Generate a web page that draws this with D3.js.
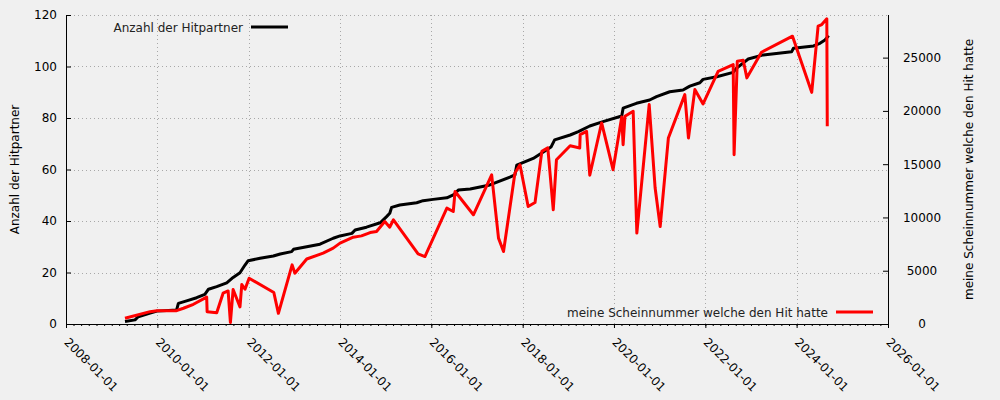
<!DOCTYPE html>
<html>
<head>
<meta charset="utf-8">
<script src="https://cdn.jsdelivr.net/npm/d3@7"></script>
<style>
  html, body { margin: 0; padding: 0; background: #f0f0f0; }
  svg { display: block; font-family: "DejaVu Sans", sans-serif; }
</style>
</head>
<body>
<svg id="chart" width="1000" height="400"></svg>
<script>
// Anzahl der Hitpartner (left axis), time in decimal years
const hitYears = [2009.29,2009.51,2009.58,2009.84,2009.99,2010.42,2010.46,2010.64,2010.86,2011.04,2011.12,2011.30,2011.52,2011.66,2011.81,2011.92,2011.99,2012.25,2012.54,2012.69,2012.94,2012.98,2013.27,2013.56,2013.85,2014.00,2014.26,2014.33,2014.58,2014.88,2015.02,2015.09,2015.13,2015.31,2015.68,2015.82,2016.04,2016.34,2016.48,2016.59,2016.85,2017.28,2017.72,2017.83,2017.87,2018.23,2018.52,2018.62,2018.70,2019.04,2019.22,2019.47,2019.76,2020.17,2020.20,2020.49,2020.78,2020.93,2021.22,2021.51,2021.66,2021.88,2021.95,2022.25,2022.61,2022.68,2022.87,2022.94,2023.27,2023.89,2023.93,2024.37,2024.51,2024.62,2024.70];
const hitValues = [1,1.6,2.8,4.2,5,5.4,8,9,10.2,11.5,13.5,14.5,16,18.1,19.9,22.9,24.6,25.5,26.4,27.2,28.1,29.0,30.0,31.0,33.3,34.2,35.2,36.5,37.6,39.3,41.7,43.0,45.3,46.2,47.1,47.9,48.4,49.0,50.1,52.0,52.4,54.0,57.0,57.9,61.7,64.3,67.6,68.7,71.5,73.4,74.7,76.9,78.6,80.8,83.8,85.7,87.0,88.3,90.2,90.9,92.4,93.7,95.0,96.0,97.7,99.3,101.9,102.9,104.5,105.7,107.1,108.0,109.0,110.3,112.0];

// meine Scheinnummer welche den Hit hatte (right axis)
const scheinYears = [2009.29,2009.84,2009.99,2010.42,2010.57,2010.79,2011.08,2011.09,2011.30,2011.44,2011.55,2011.60,2011.66,2011.81,2011.85,2011.92,2012.01,2012.55,2012.65,2012.95,2013.01,2013.27,2013.63,2013.85,2014.00,2014.29,2014.47,2014.66,2014.80,2014.98,2015.09,2015.17,2015.71,2015.86,2016.34,2016.48,2016.52,2016.92,2017.32,2017.47,2017.58,2017.83,2017.94,2018.12,2018.27,2018.42,2018.55,2018.67,2018.74,2019.04,2019.25,2019.26,2019.40,2019.47,2019.73,2019.98,2020.17,2020.20,2020.24,2020.42,2020.50,2020.77,2020.90,2021.01,2021.19,2021.55,2021.63,2021.77,2021.95,2022.28,2022.61,2022.63,2022.70,2022.83,2022.91,2023.23,2023.91,2024.33,2024.47,2024.55,2024.66,2024.67];
const scheinValues = [540,1160,1250,1250,1480,1850,2520,1160,1060,2890,3100,140,3240,1600,3710,3260,4300,2960,1000,5550,4770,6100,6650,7120,7590,8150,8270,8580,8680,9620,9090,9780,6580,6330,10880,10560,12440,10250,14000,8060,6800,14170,14950,11030,11400,16200,16540,10720,15420,16730,16520,17770,18080,13960,18870,14480,19430,16830,19490,19960,8530,20590,12760,9150,17460,21530,17460,22000,20650,23720,24350,15890,24660,24750,23100,25500,27010,21740,27950,28100,28640,18550];

const leftTicks = [0,20,40,60,80,100,120];
const rightTicks = [0,5000,10000,15000,20000,25000];
const xDomain = ["2008-01-01","2026-01-01"];
const leftLabel = "Anzahl der Hitpartner";
const rightLabel = "meine Scheinnummer welche den Hit hatte";

function yd(v) {
  const y = Math.floor(v);
  const s = new Date(y, 0, 1), e = new Date(y + 1, 0, 1);
  return new Date(s.getTime() + (v - y) * (e - s));
}
const parse = d3.timeParse("%Y-%m-%d");

const L = 66, R = 888, T = 15, B = 324;
const svg = d3.select("#chart");

const x = d3.scaleTime().domain(xDomain.map(parse)).range([L, R]);
const yL = d3.scaleLinear().domain([0, 120]).range([B, T]);
const yR = d3.scaleLinear().domain([0, 29000]).range([B, T]);

// grid
const grid = svg.append("g").attr("stroke", "#a8a8a8").attr("stroke-width", 1).attr("stroke-dasharray", "1,3");
const xMajor = x.ticks(d3.timeYear.every(2));
grid.selectAll("line.v").data(xMajor.filter(d => x(d) > L + 1 && x(d) < R - 1)).enter().append("line")
  .attr("x1", d => Math.round(x(d)) + 0.5).attr("x2", d => Math.round(x(d)) + 0.5)
  .attr("y1", T).attr("y2", B);
grid.selectAll("line.h").data(leftTicks.filter(d => d > 0)).enter().append("line")
  .attr("x1", L).attr("x2", R)
  .attr("y1", d => Math.round(yL(d)) + 0.5).attr("y2", d => Math.round(yL(d)) + 0.5);

// lines
const lineL = d3.line().x((d, i) => x(yd(hitYears[i]))).y(d => yL(d));
const lineR = d3.line().x((d, i) => x(yd(scheinYears[i]))).y(d => yR(d));
svg.append("path").datum(hitValues).attr("d", lineL)
  .attr("fill", "none").attr("stroke", "#000").attr("stroke-width", 3).attr("stroke-linejoin", "round");
svg.append("path").datum(scheinValues).attr("d", lineR)
  .attr("fill", "none").attr("stroke", "#ff0000").attr("stroke-width", 3).attr("stroke-linejoin", "round");

// x axis
const xAxis = svg.append("g").attr("transform", `translate(0,${B})`)
  .call(d3.axisBottom(x).tickValues(xMajor).tickSizeInner(4).tickSizeOuter(0).tickFormat(d3.timeFormat("%Y-%m-%d")));
xAxis.select(".domain").remove();
xAxis.selectAll("text")
  .attr("font-size", 12).attr("fill", "#000").attr("font-family", "DejaVu Sans")
  .attr("text-anchor", "start").attr("dy", null).attr("y", 0)
  .attr("transform", "translate(-3,19) rotate(45)");
const xMinor = svg.append("g").attr("transform", `translate(0,${B})`)
  .call(d3.axisBottom(x).ticks(d3.timeMonth.every(2)).tickSizeInner(2).tickSizeOuter(0).tickFormat(""));
xMinor.select(".domain").remove();

// left axis
const yAxisL = svg.append("g").attr("transform", `translate(${L},0)`)
  .call(d3.axisLeft(yL).tickValues(leftTicks).tickSizeInner(-5).tickSizeOuter(0).tickPadding(9));
yAxisL.select(".domain").remove();
yAxisL.selectAll("text").attr("font-size", 12).attr("fill", "#000").attr("font-family", "DejaVu Sans");

// right axis
const yAxisR = svg.append("g").attr("transform", `translate(${R},0)`)
  .call(d3.axisRight(yR).tickValues(rightTicks).tickSizeInner(-5).tickSizeOuter(0).tickPadding(9).tickFormat(d3.format("d")));
yAxisR.select(".domain").remove();
yAxisR.selectAll("text").attr("font-size", 12).attr("fill", "#000").attr("font-family", "DejaVu Sans")
  .attr("text-anchor", "middle").attr("x", 34);

// spines
const sp = svg.append("g").attr("stroke", "#000").attr("stroke-width", 1).attr("fill", "none");
sp.append("line").attr("x1", L + 0.5).attr("x2", L + 0.5).attr("y1", T).attr("y2", B + 0.5);
sp.append("line").attr("x1", R + 0.5).attr("x2", R + 0.5).attr("y1", T).attr("y2", B + 0.5);
sp.append("line").attr("x1", L).attr("x2", R + 1).attr("y1", B + 0.5).attr("y2", B + 0.5);

// axis titles
svg.append("text").attr("transform", `translate(19,${(T + B) / 2}) rotate(-90)`)
  .attr("text-anchor", "middle").attr("font-size", 12).attr("fill", "#000").text(leftLabel);
svg.append("text").attr("transform", `translate(973,${(T + B) / 2}) rotate(-90)`)
  .attr("text-anchor", "middle").attr("font-size", 12).attr("fill", "#000").text(rightLabel);

// legends
svg.append("text").attr("x", 243).attr("y", 32).attr("text-anchor", "end")
  .attr("font-size", 12).attr("fill", "#222").text(leftLabel);
svg.append("line").attr("x1", 251).attr("x2", 288).attr("y1", 27).attr("y2", 27)
  .attr("stroke", "#000").attr("stroke-width", 3);
svg.append("text").attr("x", 828).attr("y", 317).attr("text-anchor", "end")
  .attr("font-size", 12).attr("fill", "#222").text(rightLabel);
svg.append("line").attr("x1", 836).attr("x2", 873).attr("y1", 312).attr("y2", 312)
  .attr("stroke", "#ff0000").attr("stroke-width", 3);
</script>
</body>
</html>
